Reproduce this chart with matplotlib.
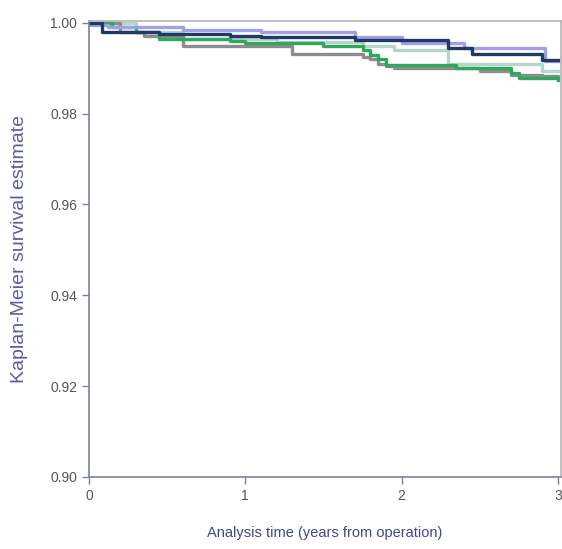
import matplotlib
matplotlib.use("Agg")
import matplotlib.pyplot as plt

plt.rcParams['font.family'] = ['Liberation Sans Narrow', 'Liberation Sans', 'DejaVu Sans']

# Kaplan-Meier step data (years, survival)
navy_t = [0, 0.08, 0.45, 0.90, 1.10, 1.70, 2.30, 2.45, 2.90, 3.00]
navy_s = [1.000, 0.9980, 0.9975, 0.9972, 0.9968, 0.9962, 0.9945, 0.9932, 0.9918, 0.9918]

lav_t = [0, 0.12, 0.60, 1.10, 1.70, 2.00, 2.40, 2.92, 3.00]
lav_s = [0.9995, 0.9990, 0.9985, 0.9980, 0.9968, 0.9955, 0.9945, 0.9915, 0.9915]

green_t = [0, 0.15, 0.30, 0.45, 0.90, 1.00, 1.50, 1.75, 1.80, 1.85, 1.90, 2.35, 2.70, 2.75, 3.00]
green_s = [1.000, 0.9990, 0.9980, 0.9965, 0.9960, 0.9955, 0.9950, 0.9940, 0.9930, 0.9920,
           0.9908, 0.9900, 0.9890, 0.9878, 0.9875]

grey_t = [0, 0.20, 0.35, 0.60, 1.00, 1.30, 1.75, 1.80, 1.85, 1.90, 1.95, 2.50, 2.70, 2.90, 3.00]
grey_s = [1.000, 0.9980, 0.9970, 0.9950, 0.9948, 0.9932, 0.9925, 0.9920, 0.9910, 0.9905,
          0.9900, 0.9895, 0.9885, 0.9882, 0.9880]

teal_t = [0, 0.30, 0.60, 1.20, 1.75, 1.95, 2.30, 2.90, 3.00]
teal_s = [1.000, 0.9980, 0.9965, 0.9958, 0.9950, 0.9940, 0.9910, 0.9895, 0.9895]

series = [
    (teal_t, teal_s, "#b5d6cc"),
    (grey_t, grey_s, "#8c8c8c"),
    (green_t, green_s, "#2ea85c"),
    (lav_t, lav_s, "#a0a0e2"),
    (navy_t, navy_s, "#1f3a66"),
]

fig = plt.figure(figsize=(5.62, 5.49), dpi=100)
ax = fig.add_axes([89 / 562, 1 - 477 / 549, (561 - 89) / 562, (477 - 21) / 549])

for t, s, c in series:
    ax.step(t, s, where="post", color=c, lw=2.4)

ax.set_xlim(0, 3.02)
ax.set_ylim(0.90, 1.0004)
ax.set_xticks([0, 1, 2, 3])
ax.set_yticks([0.90, 0.92, 0.94, 0.96, 0.98, 1.00])
ax.set_yticklabels(["0.90", "0.92", "0.94", "0.96", "0.98", "1.00"])

for side in ("left", "bottom"):
    ax.spines[side].set_color("#7c80a8")
    ax.spines[side].set_linewidth(1.2)
for side in ("top", "right"):
    ax.spines[side].set_color("#b4b4b4")
    ax.spines[side].set_linewidth(1.2)

ax.tick_params(axis="both", colors="#7c80a8", labelcolor="#555555",
               labelsize=10, length=5, width=1)
ax.tick_params(axis="x", pad=4)

ax.set_xlabel("Analysis time (years from operation)", color="#3c4890",
              fontsize=10.5, labelpad=16)
ax.set_ylabel("Kaplan-Meier survival estimate", color="#5a5aa8",
              fontsize=14, labelpad=16)

fig.savefig("out.png", dpi=100)
